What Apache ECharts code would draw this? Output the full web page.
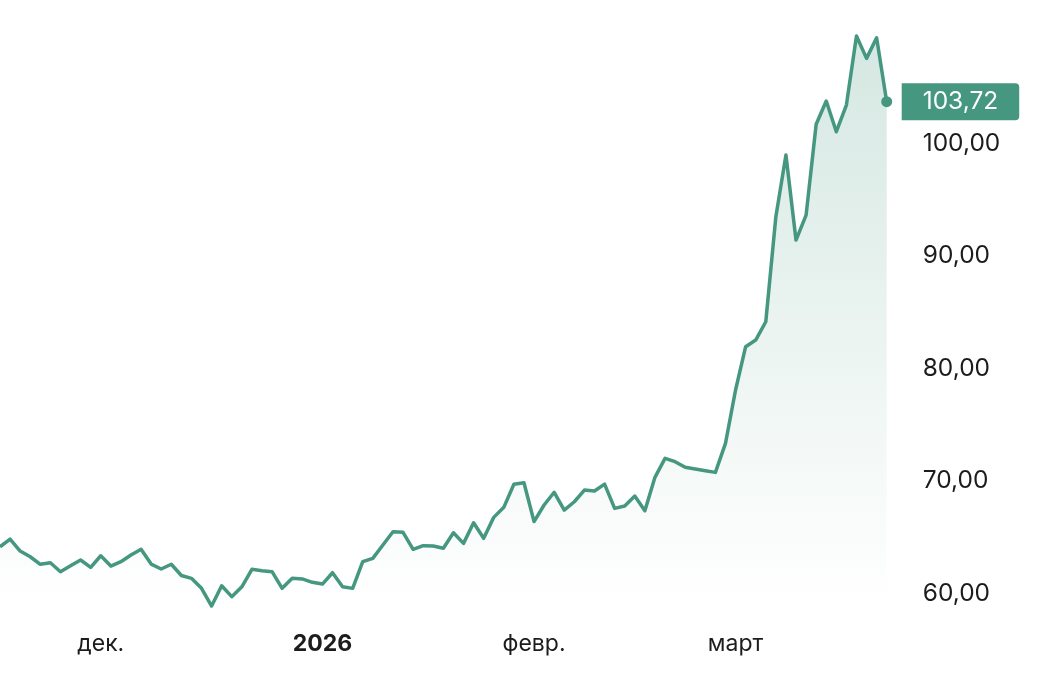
<!DOCTYPE html>
<html><head><meta charset="utf-8">
<script src="https://cdn.jsdelivr.net/npm/echarts@6/dist/echarts.min.js"></script>
<style>html,body{margin:0;padding:0;background:#fff}#c{width:1056px;height:680px}</style>
</head><body><div id="c"></div>
<script>
const dates = [
  '2025-11-17','2025-11-18','2025-11-19','2025-11-20','2025-11-21','2025-11-24','2025-11-25','2025-11-26','2025-11-27','2025-11-28',
  '2025-12-01','2025-12-02','2025-12-03','2025-12-04','2025-12-05','2025-12-08','2025-12-09','2025-12-10','2025-12-11','2025-12-12',
  '2025-12-15','2025-12-16','2025-12-17','2025-12-18','2025-12-19','2025-12-22','2025-12-23','2025-12-24','2025-12-26','2025-12-29',
  '2025-12-30','2025-12-31',
  '2026-01-02','2026-01-05','2026-01-06','2026-01-07','2026-01-08','2026-01-09','2026-01-12','2026-01-13','2026-01-14','2026-01-15',
  '2026-01-16','2026-01-19','2026-01-20','2026-01-21','2026-01-22','2026-01-23','2026-01-26','2026-01-27','2026-01-28','2026-01-29',
  '2026-01-30',
  '2026-02-02','2026-02-03','2026-02-04','2026-02-05','2026-02-06','2026-02-09','2026-02-10','2026-02-11','2026-02-12','2026-02-13',
  '2026-02-16','2026-02-17','2026-02-18','2026-02-19','2026-02-20','2026-02-23','2026-02-24','2026-02-25','2026-02-26','2026-02-27',
  '2026-03-02','2026-03-03','2026-03-04','2026-03-05','2026-03-06','2026-03-09','2026-03-10','2026-03-11','2026-03-12','2026-03-13',
  '2026-03-16','2026-03-17','2026-03-18','2026-03-19','2026-03-20','2026-03-23'
];
const values = [
  64.16, 64.84, 63.78, 63.27, 62.60, 62.74, 61.94, 62.47, 62.98, 62.33,
  63.36, 62.44, 62.83, 63.42, 63.93, 62.62, 62.18, 62.60, 61.60, 61.35,
  60.46, 58.89, 60.69, 59.72, 60.60, 62.15, 62.03, 61.94, 60.46, 61.35,
  61.30, 61.00, 60.84, 61.85, 60.60, 60.46, 62.83, 63.13, 64.31, 65.49,
  65.44, 63.93, 64.25, 64.22, 64.02, 65.40, 64.46, 66.29, 64.91, 66.77,
  67.66, 69.71, 69.85, 66.40, 67.87, 69.00, 67.42, 68.16, 69.20, 69.11,
  69.73, 67.57, 67.78, 68.67, 67.36, 70.33, 72.02, 71.72, 71.22, 71.07,
  70.92, 70.77, 73.35, 78.09, 81.94, 82.53, 84.16, 93.49, 98.98, 91.42,
  93.64, 101.71, 103.78, 101.05, 103.42, 109.56, 107.57, 109.40, 103.72
];
const yTicks = [60, 70, 80, 90, 100];
const xTickDates = ['2025-12-01', '2026-01-02', '2026-02-02', '2026-03-02'];
const xTickTexts = ['дек.', '2026', 'февр.', 'март'];
const xTickBold = [false, true, false, false];

const lastIndex = values.length - 1;
const lastValue = values[lastIndex];
const green = '#45977f';
const fmt = v => v.toFixed(2).replace('.', ',');

const chart = echarts.init(document.getElementById('c'), null, {renderer: 'canvas'});
chart.setOption({
  animation: false,
  backgroundColor: '#ffffff',
  textStyle: {fontFamily: 'Inter'},
  grid: {left: 0, right: 169.3, top: 20, bottom: 76},
  xAxis: {
    type: 'category',
    data: dates,
    boundaryGap: false,
    axisLine: {show: false},
    axisTick: {show: false},
    splitLine: {show: false},
    axisLabel: {
      interval: (i, val) => xTickDates.indexOf(val) >= 0,
      margin: 29,
      fontSize: 23,
      color: '#1c1c1e',
      fontFamily: 'Inter',
      formatter: val => {
        const i = xTickDates.indexOf(val);
        if (i < 0) return '';
        return xTickBold[i] ? '{b|' + xTickTexts[i] + '}' : xTickTexts[i];
      },
      rich: {b: {fontWeight: 'bold', fontSize: 23, color: '#1c1c1e', fontFamily: 'Inter'}}
    }
  },
  yAxis: {
    type: 'value',
    position: 'right',
    min: 59.07,
    max: 110.98,
    axisLine: {show: false},
    axisTick: {show: false},
    splitLine: {show: false},
    axisLabel: {
      customValues: yTicks.concat([lastValue]),
      margin: 15,
      formatter: v => Math.abs(v - lastValue) < 1e-6 ? '{hl|' + fmt(v) + '}' : '{n|' + fmt(v) + '}',
      rich: {
        n: {fontSize: 24.5, color: '#1c1c1e', fontFamily: 'Inter', padding: [0, 0, 0, 21]},
        hl: {fontSize: 24.5, color: '#ffffff', fontFamily: 'Inter', backgroundColor: green,
             lineHeight: 22, padding: [6, 21, 6, 21], borderRadius: [0, 4, 4, 0]}
      }
    }
  },
  series: [
    {
      type: 'line',
      data: values,
      symbol: 'none',
      clip: false,
      lineStyle: {color: green, width: 3.5, join: 'round'},
      areaStyle: {
        color: new echarts.graphic.LinearGradient(0, 0, 0, 1, [
          {offset: 0, color: 'rgba(69,151,127,0.32)'},
          {offset: 1, color: 'rgba(69,151,127,0.0)'}
        ])
      }
    },
    {
      type: 'scatter',
      data: [[lastIndex, lastValue]],
      symbol: 'circle',
      symbolSize: 11,
      clip: false,
      itemStyle: {color: green, opacity: 1}
    }
  ]
});
</script>
</body></html>
